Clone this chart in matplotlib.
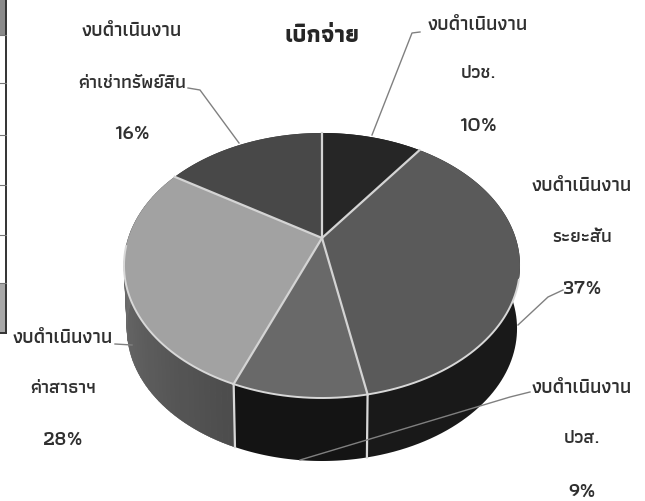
import numpy as np
import matplotlib
matplotlib.use("Agg")
import matplotlib.pyplot as plt
from matplotlib.patches import Polygon, Rectangle

# ---- data ----
title = "เบิกจ่าย"
values = [10, 37, 9, 28, 16]
line1 = ["งบดำเนินงาน"] * 5
line2 = ["ปวช.", "ระยะสั้น", "ปวส.", "ค่าสาธาฯ", "ค่าเช่าทรัพย์สิน"]
percent_labels = ["10%", "37%", "9%", "28%", "16%"]
top_colors = ["#262626", "#5a5a5a", "#696969", "#a2a2a2", "#484848"]
side_colors = ["#111111", "#191919", "#141414", "#626262", "#333333"]

plt.rcParams["font.family"] = ["Athiti", "Sarabun", "DejaVu Sans"]

fig = plt.figure(figsize=(6.45, 5.01), dpi=100)
ax = fig.add_axes([0, 0, 1, 1])
ax.set_xlim(0, 645)
ax.set_ylim(501, 0)
ax.axis("off")

CX, CY, R, B, P, DEPTH, SHRINK = 322.0, 238.0, 193.7, 126.8, 0.2075, 63.0, 0.985


def rim(theta):
    den = 1 + P * np.cos(theta)
    return CX + R * np.sin(theta) / den, CY - B * np.cos(theta) / den


def floor(theta):
    x, y = rim(theta)
    return CX + (x - CX) * SHRINK, y + DEPTH


edges = 2 * np.pi * np.cumsum([0] + values) / sum(values)

# side walls, back to front
for i in [4, 0, 1, 3, 2]:
    t = np.linspace(edges[i], edges[i + 1], 80)
    xt, yt = rim(t)
    xb, yb = floor(t[::-1])
    ax.add_patch(Polygon(np.c_[np.r_[xt, xb], np.r_[yt, yb]], closed=True,
                         fc=side_colors[i], ec="none", zorder=2))

# shading on the light wall
t28 = np.linspace(edges[3], edges[4], 60)
for a, b, g in zip(t28[:-1], t28[1:], np.linspace(0.30, 0.50, 59)):
    seg = np.linspace(a, b, 3)
    xt, yt = rim(seg)
    xb, yb = floor(seg[::-1])
    ax.add_patch(Polygon(np.c_[np.r_[xt, xb], np.r_[yt, yb]], closed=True,
                         fc=str(g), ec=str(g), lw=0.3, zorder=2.1))

# wall dividers
for e in (edges[2], edges[3]):
    x0, y0 = rim(e)
    x1, y1 = floor(e)
    ax.plot([x0, x1], [y0, y1], color="#d8d8d8", lw=1.6, zorder=3)

# top wedges
for i in range(5):
    t = np.linspace(edges[i], edges[i + 1], 80)
    x, y = rim(t)
    ax.add_patch(Polygon(np.c_[np.r_[CX, x], np.r_[CY, y]], closed=True,
                         fc=top_colors[i], ec="none", zorder=4))
for e in edges[:-1]:
    x, y = rim(e)
    ax.plot([CX, x], [CY, y], color="#d4d4d4", lw=1.6, zorder=5)
front = np.linspace(np.pi * 0.6, np.pi * 1.48, 200)
ax.plot(*rim(front), color="#d8d8d8", lw=1.4, zorder=5)

# leaders
leaders = [
    ([420, 412, 372], [32, 33, 135]),
    ([563, 548, 518], [290, 297, 325]),
    ([530, 510, 300], [392, 397, 460]),
    ([115, 132], [344, 345]),
    ([188, 200, 239], [88, 90, 143]),
]
for lx, ly in leaders:
    ax.plot(lx, ly, color="#808080", lw=1.0, zorder=6)

# labels
label_x = [478, 582, 582, 63, 132]
label_y = [(25, 73, 126), (186, 237, 289), (388, 438, 492), (338, 388, 440), (31, 83, 134)]
for i in range(5):
    texts = (line1[i], line2[i], percent_labels[i])
    sizes = (14.2, 13.5, 15.5)
    for s, y, fs in zip(texts, label_y[i], sizes):
        ax.text(label_x[i], y, s, ha="center", va="center", fontsize=fs,
                fontweight="semibold", color="#303030", zorder=7)
ax.text(322, 36, title, ha="center", va="center", fontsize=17, fontweight="bold",
        color="#262626", zorder=7)

# remnant of the scanned table at the left edge
ax.add_patch(Rectangle((0, 0), 6, 35, fc="#8a8a8a", ec="none"))
ax.add_patch(Rectangle((0, 283), 6, 50, fc="#a8a8a8", ec="none"))
ax.plot([6, 6], [0, 333], color="#333333", lw=1.4)
ax.plot([0, 6], [333, 333], color="#333333", lw=1.4)
for yy in [35, 83, 135, 185, 235, 283]:
    ax.plot([0, 6], [yy, yy], color="#777777", lw=0.8)

fig.savefig("out.png", dpi=100, facecolor="white")
